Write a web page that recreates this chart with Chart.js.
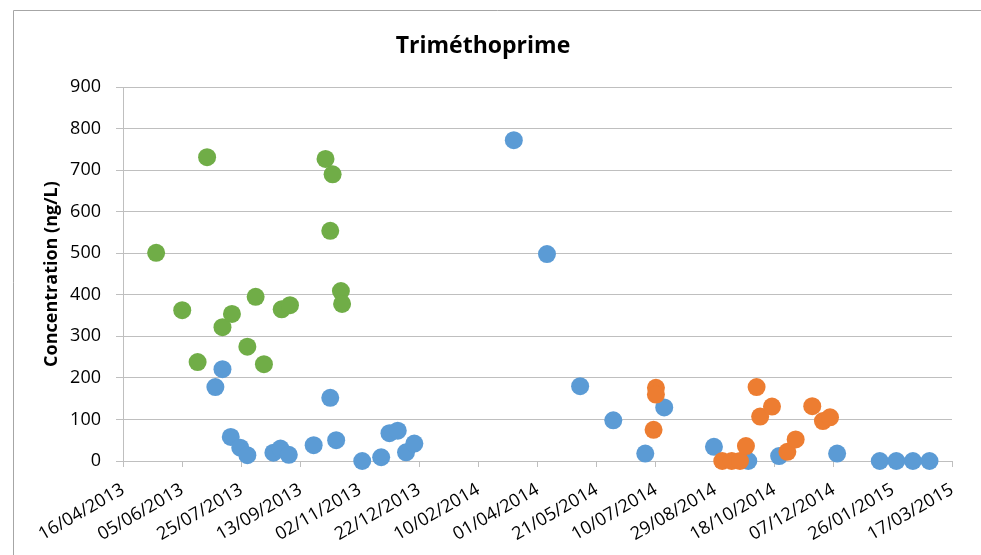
<!DOCTYPE html>
<html>
<head>
<meta charset="utf-8">
<title>Triméthoprime</title>
<script src="https://cdn.jsdelivr.net/npm/chart.js@4.4.1/dist/chart.umd.min.js"></script>
<style>
  html, body { margin: 0; padding: 0; background: #ffffff; }
  #wrap { width: 981px; height: 555px; position: relative; }
</style>
</head>
<body>
<div id="wrap"><canvas id="chart"></canvas></div>
<script>
// Sampling dates (YYYY-MM-DD) and trimethoprim concentrations (ng/L)
const greenDates = ['2013-05-14','2013-06-05','2013-06-18','2013-06-26','2013-07-09','2013-07-17','2013-07-30','2013-08-06',
                    '2013-08-13','2013-08-28','2013-09-04','2013-10-04','2013-10-08','2013-10-10','2013-10-17','2013-10-18'];
const greenValues = [501, 363, 238, 731, 322, 354, 275, 395, 233, 365, 375, 727, 554, 690, 409, 378];

const blueDates = ['2013-07-03','2013-07-09','2013-07-16','2013-07-24','2013-07-30','2013-08-21','2013-08-27','2013-09-03',
                   '2013-09-24','2013-10-08','2013-10-13','2013-11-04','2013-11-20','2013-11-27','2013-12-04','2013-12-11',
                   '2013-12-18','2014-03-12','2014-04-09','2014-05-07','2014-06-04','2014-07-01','2014-07-17','2014-08-28',
                   '2014-09-26','2014-10-22','2014-12-10','2015-01-15','2015-01-29','2015-02-12','2015-02-26'];
const blueValues = [178, 221, 58, 32, 14, 20, 30, 15, 38, 152, 50, 0, 9, 67, 73, 21, 42, 772, 498, 180, 98, 18, 129, 34,
                    0, 12, 18, 0, 0, 0, 0];

const orangeDates = ['2014-07-08','2014-07-10','2014-07-10','2014-09-04','2014-09-12','2014-09-19','2014-09-24','2014-10-03',
                     '2014-10-06','2014-10-16','2014-10-29','2014-11-05','2014-11-19','2014-11-28','2014-12-04'];
const orangeValues = [75, 176, 160, 0, 0, 0, 36, 178, 107, 131, 22, 52, 132, 96, 105];

// Date axis tick labels (every 50 days)
const xTickLabels = ['16/04/2013','05/06/2013','25/07/2013','13/09/2013','02/11/2013','22/12/2013','10/02/2014',
                     '01/04/2014','21/05/2014','10/07/2014','29/08/2014','18/10/2014','07/12/2014','26/01/2015','17/03/2015'];
const yTicks = [0, 100, 200, 300, 400, 500, 600, 700, 800, 900];

// helpers: dates <-> day numbers (UTC)
const DAY = 86400000;
function isoToDay(s) { const [y, m, d] = s.split('-').map(Number); return Date.UTC(y, m - 1, d) / DAY; }
function frToDay(s) { const [d, m, y] = s.split('/').map(Number); return Date.UTC(y, m - 1, d) / DAY; }
function dayToFr(n) {
  const dt = new Date(Math.round(n) * DAY);
  const p = v => String(v).padStart(2, '0');
  return p(dt.getUTCDate()) + '/' + p(dt.getUTCMonth() + 1) + '/' + dt.getUTCFullYear();
}
function points(dates, values) { return dates.map((d, i) => ({ x: isoToDay(d), y: values[i] })); }

const xTickDays = xTickLabels.map(frToDay);

const FONT = "'Open Sans', 'Liberation Sans', sans-serif";
const GRID = '#BFBFBF';

// outer frame of the chart block
const framePlugin = {
  id: 'frame',
  beforeDraw(chart) {
    const ctx = chart.ctx;
    ctx.save();
    ctx.fillStyle = '#ffffff';
    ctx.fillRect(0, 0, chart.width, chart.height);
    ctx.strokeStyle = '#A6A6A6';
    ctx.lineWidth = 1;
    ctx.beginPath();
    ctx.moveTo(13.5, chart.height);
    ctx.lineTo(13.5, 10.5);
    ctx.lineTo(chart.width, 10.5);
    ctx.stroke();
    ctx.restore();
  }
};

const pointStyle = (color, order) => ({
  backgroundColor: color,
  borderColor: color,
  borderWidth: 0,
  pointRadius: 9,
  pointHoverRadius: 9,
  showLine: false,
  clip: false,
  order: order
});

new Chart(document.getElementById('chart'), {
  type: 'scatter',
  data: {
    datasets: [
      Object.assign({ label: 'Série 1', data: points(greenDates, greenValues) }, pointStyle('#70AD47', 2)),
      Object.assign({ label: 'Série 2', data: points(blueDates, blueValues) }, pointStyle('#5B9BD5', 1)),
      Object.assign({ label: 'Série 3', data: points(orangeDates, orangeValues) }, pointStyle('#ED7D31', 0))
    ]
  },
  options: {
    responsive: true,
    maintainAspectRatio: false,
    animation: false,
    layout: { padding: { left: 14, right: 29, top: 10, bottom: 0 } },
    plugins: {
      legend: { display: false },
      tooltip: { enabled: false },
      title: {
        display: true,
        text: 'Triméthoprime',
        color: '#000000',
        font: { family: FONT, size: 23, weight: 'bold' },
        padding: { top: 23, bottom: 26.4 }
      }
    },
    scales: {
      x: {
        type: 'linear',
        min: xTickDays[0],
        max: xTickDays[xTickDays.length - 1],
        afterBuildTicks(scale) { scale.ticks = xTickDays.map(v => ({ value: v })); },
        afterFit(scale) { scale.height = 94; },
        grid: { drawOnChartArea: false, drawTicks: true, tickLength: 6, color: GRID },
        border: { display: true, color: GRID },
        ticks: {
          autoSkip: false,
          minRotation: 30,
          maxRotation: 30,
          padding: 12,
          color: '#000000',
          font: { family: FONT, size: 18 },
          callback: v => dayToFr(v)
        }
      },
      y: {
        min: 0,
        max: 900,
        afterBuildTicks(scale) { scale.ticks = yTicks.map(v => ({ value: v })); },
        afterFit(scale) { scale.width = 109; },
        grid: { color: GRID, tickLength: 7, drawTicks: true },
        border: { display: true, color: GRID },
        ticks: {
          padding: 15,
          color: '#000000',
          font: { family: FONT, size: 18 }
        },
        title: {
          display: true,
          text: 'Concentration (ng/L)',
          color: '#000000',
          font: { family: FONT, size: 18, weight: 'bold' },
          padding: { top: 27, bottom: 0 }
        }
      }
    }
  },
  plugins: [framePlugin]
});
</script>
</body>
</html>
